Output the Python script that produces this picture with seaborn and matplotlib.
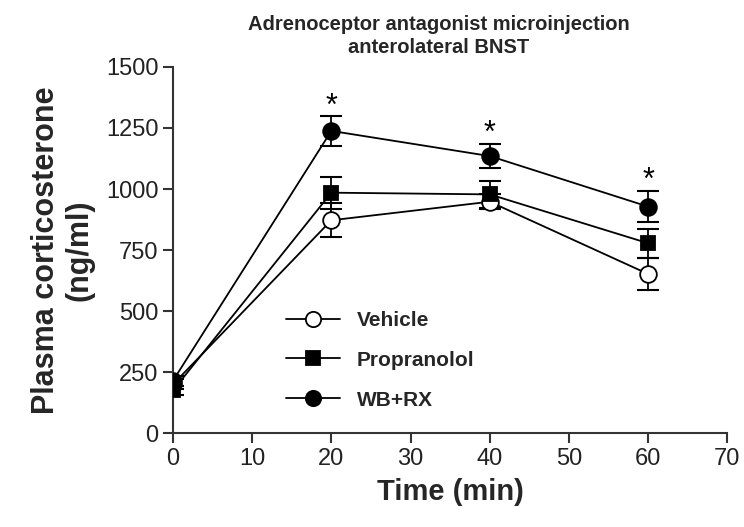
import matplotlib
matplotlib.use("Agg")
import matplotlib.pyplot as plt
import seaborn as sns
import pandas as pd
from matplotlib.lines import Line2D

time = [0, 20, 40, 60]
vehicle = [200, 872, 948, 652]
vehicle_err = [20, 70, 30, 65]
propranolol = [175, 985, 978, 778]
propranolol_err = [20, 65, 55, 60]
wbrx = [215, 1238, 1135, 928]
wbrx_err = [20, 60, 50, 65]
star_times = [20, 40, 60]
star_y = [1335, 1225, 1035]
series_names = ["Vehicle", "Propranolol", "WB+RX"]

sns.set_theme(style="ticks")
plt.rcParams['font.family'] = ['Liberation Sans', 'DejaVu Sans']

fig = plt.figure(figsize=(7.44, 5.27), dpi=100)
ax = fig.add_axes([0.2325, 0.178, 0.745, 0.695])

styles = {
    "Vehicle": dict(marker="o", mfc="white", ms=12),
    "Propranolol": dict(marker="s", mfc="black", ms=10.5),
    "WB+RX": dict(marker="o", mfc="black", ms=12),
}
data = {"Vehicle": (vehicle, vehicle_err),
        "Propranolol": (propranolol, propranolol_err),
        "WB+RX": (wbrx, wbrx_err)}

for name in series_names:
    vals, errs = data[name]
    df = pd.DataFrame({"t": time, "v": vals})
    st = styles[name]
    ax.errorbar(time, vals, yerr=errs, fmt="none", ecolor="black",
                elinewidth=1.3, capsize=8, capthick=1.5, zorder=2)
    sns.lineplot(data=df, x="t", y="v", ax=ax, color="black", lw=1.3,
                 marker=st["marker"], markersize=st["ms"],
                 markerfacecolor=st["mfc"], markeredgecolor="black",
                 markeredgewidth=1.3, zorder=3)

for t, y in zip(star_times, star_y):
    ax.text(t, y, "*", ha="center", va="center", fontsize=22, color="black")

ax.set_xlim(0, 70)
ax.set_ylim(0, 1500)
ax.set_xticks(range(0, 71, 10))
ax.set_yticks([0, 250, 500, 750, 1000, 1250, 1500])
ax.spines["top"].set_visible(False)
ax.spines["right"].set_visible(False)
for s in ["left", "bottom"]:
    ax.spines[s].set_linewidth(1.5)
    ax.spines[s].set_color("#333333")
ax.tick_params(axis="both", labelsize=17, width=1.5, length=7, color="#333333",
               labelcolor="#222222")

ax.set_xlabel("Time (min)", fontsize=21, fontweight="bold", labelpad=6)
ax.set_ylabel("Plasma corticosterone\n(ng/ml)", fontsize=22, fontweight="bold",
              labelpad=8, linespacing=1.15)
ax.set_title("Adrenoceptor antagonist microinjection\nanterolateral BNST",
             fontsize=14.5, fontweight="bold", pad=10, linespacing=1.3, x=0.48)

handles = []
for name in series_names:
    st = styles[name]
    handles.append(Line2D([0], [0], color="black", lw=1.3, marker=st["marker"],
                          markersize=st["ms"] - 1, markerfacecolor=st["mfc"],
                          markeredgecolor="black", markeredgewidth=1.3))
leg = ax.legend(handles, series_names, loc="upper left",
                bbox_to_anchor=(0.17, 0.385), frameon=False,
                handlelength=2.6, labelspacing=1.0, prop={"weight": "bold", "size": 15})

fig.savefig("out.png", dpi=100)
